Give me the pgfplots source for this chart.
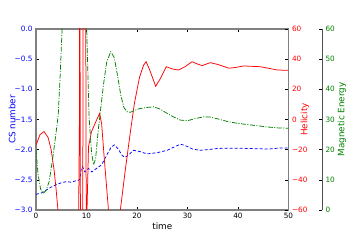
\documentclass[border=0pt]{standalone}
\usepackage{fontspec}
\setmainfont{DejaVu Sans}
\usepackage{pgfplots}
\pgfplotsset{compat=1.18}
\definecolor{spine}{RGB}{128,128,128}
\definecolor{spinedark}{RGB}{80,80,80}
\definecolor{mgreen}{RGB}{0,128,0}
\begin{document}
\begin{tikzpicture}
\useasboundingbox (-36pt,-31pt) rectangle (325pt,210pt);
\pgfplotsset{
  every axis/.append style={
    scale only axis, height=181pt,
    tick align=inside, major tick length=3pt,
    every tick/.style={black, line width=0.5pt},
    tick label style={font=\fontsize{7.3}{8}\selectfont},
    label style={font=\fontsize{8.8}{10}\selectfont},
    /pgf/number format/assume math mode=true,
  },
}
% Axis 1: CS number
\begin{axis}[
  width=252.5pt,
  xmin=0, xmax=50, ymin=-3, ymax=0,
  xtick={0,10,20,30,40,50},
  xtick pos=both, ytick pos=left,
  ytick={-3,-2.5,-2,-1.5,-1,-0.5,0},
  yticklabels={−3.0,−2.5,−2.0,−1.5,−1.0,−0.5,0.0},
  yticklabel style={blue},
  axis line style={spine, line width=1.2pt},
  xlabel={time},
  xlabel style={at={(axis description cs:0.5,-0.088)}, anchor=center},
  ylabel={CS number},
  ylabel style={blue, at={(axis description cs:-0.095,0.5)}, anchor=center},
]
\addplot[blue, line width=0.75pt, dash pattern=on 3pt off 2pt] coordinates {
(0,-2.74) (1,-2.72) (2,-2.67) (3,-2.62) (4,-2.58) (5,-2.55) (6,-2.53) (7,-2.54) (7.7,-2.52) (8.3,-2.51) (8.7,-2.49) (9.0,-2.30) (9.2,-2.28) (9.7,-2.37) (10.4,-2.31) (11.05,-2.37) (12,-2.31) (13,-2.25) (14,-2.09) (14.8,-1.97) (15.5,-1.92) (16.3,-1.99) (17,-2.09) (17.6,-2.13) (18.3,-2.09) (19.3,-2.01) (20.5,-2.03) (22,-2.07) (24,-2.05) (26,-2.01) (27.5,-1.95) (28.6,-1.91) (29.5,-1.93) (31,-1.99) (32.5,-2.01) (34,-2.0) (36,-1.98) (38,-1.975) (40,-1.975) (42,-1.98) (44,-1.985) (46,-1.99) (48,-1.975) (50,-1.97)
};
\end{axis}
% Axis 2: Helicity
\begin{axis}[
  width=252.5pt,
  xmin=0, xmax=50, ymin=-60, ymax=60,
  axis x line=none, axis y line*=right,
  ytick={-60,-40,-20,0,20,40,60},
  yticklabels={−60,−40,−20,0,20,40,60},
  yticklabel style={red},
  axis line style={spine, line width=1.2pt},
  ylabel={Helicity},
  ylabel style={red, at={(axis description cs:1.065,0.5)}, anchor=center},
]
\addplot[red, line width=0.75pt] coordinates {
(0,-17) (0.8,-10) (1.6,-8) (2.4,-12) (3.0,-20) (3.6,-34) (4.0,-47) (4.4,-62) (5.5,-120) (6.5,-160) (7.5,-150) (8.3,-120) (8.6,0) (8.67,200) (8.75,0) (8.9,-200) (9.2,-100) (9.3,0) (9.4,200) (9.8,150) (9.9,0) (10.0,-150) (10.1,-60) (10.4,-18) (11,-8) (12,-0.3) (12.6,4) (13.0,-3) (13.5,-25) (14.35,-60) (15.5,-120) (16.7,-60) (17.7,-33) (18.7,-8) (19.5,11) (20.5,28) (21.3,36) (21.8,38.3) (22.5,33) (23.7,22) (24.6,27) (25.8,35) (27,33.5) (28.2,32.8) (29.5,35) (30.9,38.3) (31.8,37) (32.9,35.7) (34.5,37.7) (36,36.5) (38.2,34) (39.5,34.5) (41.1,35.5) (44.4,35) (46,34) (47.8,32.8) (50,32.6)
};
\end{axis}
% Axis 3: Magnetic Energy (offset spine)
\begin{axis}[
  width=286pt,
  xmin=0, xmax=56.634, ymin=0, ymax=60,
  axis x line=none, axis y line*=right,
  ytick={0,10,20,30,40,50,60},
  yticklabel style={mgreen},
  axis line style={spinedark, line width=0.8pt},
  ylabel={Magnetic Energy},
  ylabel style={mgreen, at={(axis description cs:1.070,0.5)}, anchor=center},
]
\addplot[mgreen, line width=0.75pt, dash pattern=on 5pt off 1.5pt on 1pt off 1.5pt] coordinates {
(0,20) (0.4,12) (0.9,7) (1.4,5.5) (2.0,6.5) (2.6,9.4) (3.3,17) (4.0,26) (4.4,31.5) (4.8,45) (5.16,60) (5.6,80) (6.5,110) (7.5,120) (8.5,110) (9.5,85) (10.05,60) (10.5,31) (11.0,19) (11.4,15) (11.8,17) (12.3,26) (12.7,32) (13.4,42) (14.0,49) (14.8,52.5) (15.5,50.5) (16.2,44) (16.8,38) (17.4,34) (18,32.6) (18.7,32.4) (19.5,33) (20.5,33.6) (22,34) (23.3,34.2) (24.5,33.5) (26,32) (27.2,30.9) (28.6,29.8) (30,29.6) (31.5,30.3) (33.3,30.9) (34.5,30.8) (36,30.2) (38,29.3) (40,28.7) (42,28.3) (44,27.9) (46,27.5) (48,27.2) (50,27.1)
};
\end{axis}
\end{tikzpicture}
\end{document}
